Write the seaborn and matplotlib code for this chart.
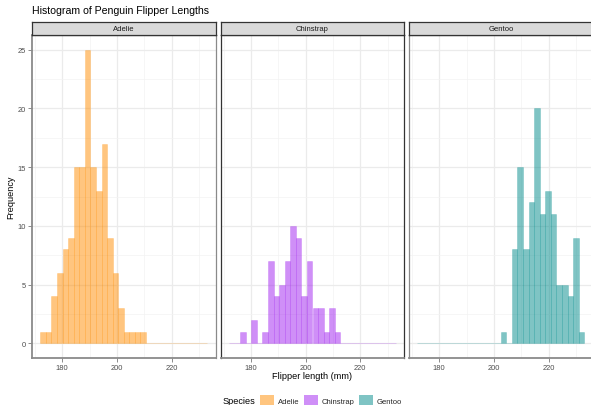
import numpy as np
import pandas as pd
import seaborn as sns
import matplotlib
matplotlib.use("Agg")
import matplotlib.pyplot as plt
from matplotlib.patches import Patch

# Flipper-length histogram counts per species (30 bins spanning 172-231 mm)
species = ["Adelie", "Chinstrap", "Gentoo"]
colors = ["#FF8C00", "#A020F0", "#008B8B"]

adelie_counts = [1, 1, 4, 6, 8, 9, 15, 15, 25, 15, 13, 17, 9, 6, 3,
                 1, 1, 1, 1, 0, 0, 0, 0, 0, 0, 0, 0, 0, 0, 0]
chinstrap_counts = [0, 0, 1, 0, 2, 0, 1, 7, 4, 5, 7, 10, 9, 4, 7,
                    3, 3, 1, 3, 1, 0, 0, 0, 0, 0, 0, 0, 0, 0, 0]
gentoo_counts = [0, 0, 0, 0, 0, 0, 0, 0, 0, 0, 0, 0, 0, 0, 0,
                 1, 0, 8, 15, 8, 12, 20, 11, 13, 11, 5, 5, 4, 9, 1]

x_ticks = [180, 200, 220]
y_ticks = [0, 5, 10, 15, 20, 25]

flipper_min, flipper_max, n_bins = 172, 231, 30
binwidth = (flipper_max - flipper_min) / (n_bins - 1)
edges = flipper_min + binwidth * np.arange(n_bins + 1)
centers = (edges[:-1] + edges[1:]) / 2

counts = {"Adelie": adelie_counts, "Chinstrap": chinstrap_counts, "Gentoo": gentoo_counts}
df = pd.concat(
    [pd.DataFrame({"species": s, "flipper": centers, "n": counts[s]}) for s in species],
    ignore_index=True,
)

sns.set_theme(style="white")
plt.rcParams["font.family"] = ["Liberation Sans", "DejaVu Sans"]

W, H = 591, 406
fig = plt.figure(figsize=(W / 100, H / 100), dpi=100)

def fx(px):
    return px / W

def fy(py):
    return 1 - py / H

panel_top, panel_bottom = 36, 359
strip_top = 22.5
panel_w = 183.6
lefts = [32, 220.7, 409]

x_lo = edges[0] - 0.05 * (edges[-1] - edges[0])
x_hi = edges[-1] + 0.05 * (edges[-1] - edges[0])
y_lo, y_hi = -1.25, 26.25

grey_axis = "#8A8A8A"
dark = "#333333"

for i, (sp, col) in enumerate(zip(species, colors)):
    left = lefts[i]
    ax = fig.add_axes([fx(left), fy(panel_bottom), fx(panel_w), (panel_bottom - panel_top) / H])
    sub = df[df["species"] == sp]
    sns.histplot(data=sub, x="flipper", weights="n", bins=list(edges), ax=ax,
                 color=col, alpha=0.5, edgecolor=(*matplotlib.colors.to_rgb(col), 0.35),
                 linewidth=0.4)
    ax.set_xlim(x_lo, x_hi)
    ax.set_ylim(y_lo, y_hi)
    ax.set_xticks(x_ticks)
    ax.set_xticks([170, 190, 210, 230], minor=True)
    ax.set_yticks(y_ticks)
    ax.set_yticks([2.5, 7.5, 12.5, 17.5, 22.5], minor=True)
    ax.grid(True, which="major", color="#EBEBEB", linewidth=0.9)
    ax.grid(True, which="minor", color="#F3F3F3", linewidth=0.5)
    ax.set_axisbelow(True)
    ax.set_xlabel("")
    ax.set_ylabel("")
    ax.tick_params(axis="x", which="major", length=3, width=0.7, color=grey_axis,
                   labelsize=5.4, labelcolor="#4D4D4D", pad=1.5, bottom=True)
    ax.tick_params(axis="y", which="major", length=3, width=0.7, color=grey_axis,
                   labelsize=5.4, labelcolor="#4D4D4D", pad=1.5, left=(i == 0))
    ax.tick_params(which="minor", length=0)
    if i > 0:
        ax.set_yticklabels([])
    for sp_line in ax.spines.values():
        sp_line.set_visible(True)
        sp_line.set_color(dark)
        sp_line.set_linewidth(0.9)
    ax.spines["bottom"].set_color(grey_axis)
    ax.spines["bottom"].set_linewidth(1.3)
    if i == 0:
        ax.spines["left"].set_color(grey_axis)
        ax.spines["left"].set_linewidth(1.3)
        ax.spines["right"].set_color(grey_axis)
    if i == 2:
        ax.spines["left"].set_color(grey_axis)

    # facet strip
    sax = fig.add_axes([fx(left), fy(panel_top), fx(panel_w), (panel_top - strip_top) / H])
    sax.set_facecolor("#D9D9D9")
    sax.set_xticks([])
    sax.set_yticks([])
    for sp_line in sax.spines.values():
        sp_line.set_color(dark)
        sp_line.set_linewidth(0.9)
    sax.text(0.5, 0.5, sp, ha="center", va="center", fontsize=5.5, color="#1A1A1A",
             transform=sax.transAxes)

fig.text(fx(32), fy(11), "Histogram of Penguin Flipper Lengths", ha="left", va="center",
         fontsize=7.6, color="black")
fig.text(fx(312), fy(377), "Flipper length (mm)", ha="center", va="center",
         fontsize=6.6, color="black")
fig.text(fx(11), fy(197.5), "Frequency", ha="center", va="center", rotation=90,
         fontsize=6.6, color="black")

# legend along the bottom: title then three keys
fig.text(fx(222.5), fy(402), "Species", ha="left", va="center", fontsize=6.6, color="black")
handles = [Patch(facecolor=c, alpha=0.5, edgecolor="none", label=s) for s, c in zip(species, colors)]
fig.legend(handles=handles, loc="center left", ncol=3,
           bbox_to_anchor=(fx(260), fy(401.5)), frameon=False, fontsize=5.5,
           handlelength=1.8, handleheight=2.0, handletextpad=0.5, columnspacing=0.65,
           borderpad=0, borderaxespad=0)

fig.savefig("out.png", dpi=100)
